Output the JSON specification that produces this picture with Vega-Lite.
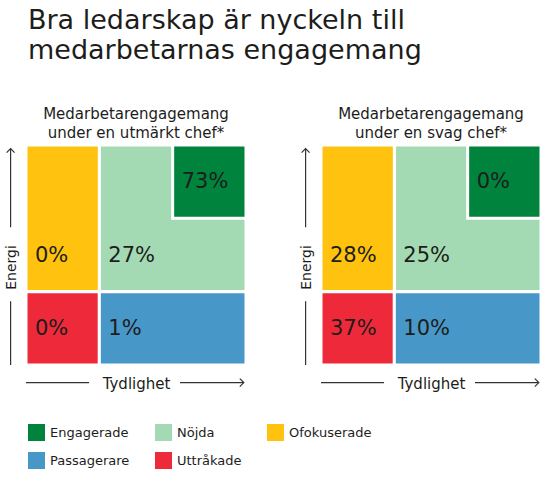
{
  "$schema": "https://vega.github.io/schema/vega-lite/v6.json",
  "padding": {"left": 4, "top": 6, "right": 0, "bottom": 0},
  "title": {
    "text": ["Bra ledarskap är nyckeln till", "medarbetarnas engagemang"],
    "anchor": "start",
    "frame": "group",
    "dx": 2,
    "fontSize": 27,
    "fontWeight": "normal",
    "lineHeight": 30,
    "color": "#1d1d1b",
    "offset": 42
  },
  "datasets": {
    "celler": [
      {"chef": "utmärkt", "grupp": "Nöjda", "andel": 0.27, "x0": 1, "x1": 3, "y0": 1, "y1": 3},
      {"chef": "utmärkt", "grupp": "Engagerade", "andel": 0.73, "x0": 2, "x1": 3, "y0": 2, "y1": 3},
      {"chef": "utmärkt", "grupp": "Ofokuserade", "andel": 0, "x0": 0, "x1": 1, "y0": 1, "y1": 3},
      {"chef": "utmärkt", "grupp": "Uttråkade", "andel": 0, "x0": 0, "x1": 1, "y0": 0, "y1": 1},
      {"chef": "utmärkt", "grupp": "Passagerare", "andel": 0.01, "x0": 1, "x1": 3, "y0": 0, "y1": 1},
      {"chef": "svag", "grupp": "Nöjda", "andel": 0.25, "x0": 1, "x1": 3, "y0": 1, "y1": 3},
      {"chef": "svag", "grupp": "Engagerade", "andel": 0, "x0": 2, "x1": 3, "y0": 2, "y1": 3},
      {"chef": "svag", "grupp": "Ofokuserade", "andel": 0.28, "x0": 0, "x1": 1, "y0": 1, "y1": 3},
      {"chef": "svag", "grupp": "Uttråkade", "andel": 0.37, "x0": 0, "x1": 1, "y0": 0, "y1": 1},
      {"chef": "svag", "grupp": "Passagerare", "andel": 0.10, "x0": 1, "x1": 3, "y0": 0, "y1": 1}
    ],
    "linjer": [
      {"x": -0.21, "x2": -0.21, "y": 1.88, "y2": 2.95},
      {"x": -0.21, "x2": -0.21, "y": 0, "y2": 0.87},
      {"x": 0, "x2": 0.86, "y": -0.24, "y2": -0.24},
      {"x": 2.1, "x2": 2.97, "y": -0.24, "y2": -0.24}
    ],
    "pilar": [
      {"riktning": "upp", "x": -0.21, "y": 2.95},
      {"riktning": "höger", "x": 2.97, "y": -0.24}
    ]
  },
  "hconcat": [
    {
      "title": {"text": ["Medarbetarengagemang", "under en utmärkt chef*"]},
      "width": 220,
      "height": 220,
      "layer": [
        {
          "data": {"name": "celler"},
          "transform": [{"filter": "datum.chef === 'utmärkt'"}],
          "mark": {"type": "rect", "stroke": "white", "strokeWidth": 3},
          "encoding": {
            "x": {"field": "x0", "type": "quantitative", "scale": {"domain": [0, 3]},
              "axis": {"title": "Tydlighet", "domain": false, "ticks": false, "labels": false, "grid": false, "minExtent": 0, "titlePadding": 11}},
            "x2": {"field": "x1"},
            "y": {"field": "y0", "type": "quantitative", "scale": {"domain": [0, 3]},
              "axis": {"title": "Energi", "domain": false, "ticks": false, "labels": false, "grid": false, "minExtent": 0, "titlePadding": 8, "titleY": 122}},
            "y2": {"field": "y1"},
            "color": {"field": "grupp", "type": "nominal",
              "scale": {"domain": ["Engagerade", "Nöjda", "Ofokuserade", "Passagerare", "Uttråkade"],
                        "range": ["#00843d", "#a3dab3", "#ffc20e", "#4797c9", "#ee2a3a"]},
              "legend": {"orient": "none", "legendX": 2, "legendY": 279, "columns": 3, "direction": "horizontal"}}
          }
        },
        {
          "data": {"name": "celler"},
          "transform": [{"filter": "datum.chef === 'utmärkt'"}],
          "mark": {"type": "text", "align": "left", "baseline": "middle", "dx": 9, "dy": -36, "fontSize": 21, "color": "#1d1d1b"},
          "encoding": {
            "x": {"field": "x0", "type": "quantitative"},
            "y": {"field": "y0", "type": "quantitative"},
            "text": {"field": "andel", "type": "quantitative", "format": ".0%"}
          }
        },
        {
          "data": {"name": "linjer"},
          "mark": {"type": "rule", "color": "#333333", "strokeWidth": 1.2},
          "encoding": {
            "x": {"field": "x", "type": "quantitative"},
            "x2": {"field": "x2"},
            "y": {"field": "y", "type": "quantitative"},
            "y2": {"field": "y2"}
          }
        },
        {
          "data": {"name": "pilar"},
          "mark": {"type": "point", "filled": false, "stroke": "#333333", "strokeWidth": 1.2, "size": 64, "opacity": 1},
          "encoding": {
            "x": {"field": "x", "type": "quantitative"},
            "y": {"field": "y", "type": "quantitative"},
            "shape": {"field": "riktning", "type": "nominal", "legend": null,
              "scale": {"domain": ["upp", "höger"], "range": ["M-1,1L0,0L1,1", "M-1,-1L0,0L-1,1"]}}
          }
        }
      ]
    },
    {
      "title": {"text": ["Medarbetarengagemang", "under en svag chef*"]},
      "width": 220,
      "height": 220,
      "layer": [
        {
          "data": {"name": "celler"},
          "transform": [{"filter": "datum.chef === 'svag'"}],
          "mark": {"type": "rect", "stroke": "white", "strokeWidth": 3},
          "encoding": {
            "x": {"field": "x0", "type": "quantitative", "scale": {"domain": [0, 3]},
              "axis": {"title": "Tydlighet", "domain": false, "ticks": false, "labels": false, "grid": false, "minExtent": 0, "titlePadding": 11}},
            "x2": {"field": "x1"},
            "y": {"field": "y0", "type": "quantitative", "scale": {"domain": [0, 3]},
              "axis": {"title": "Energi", "domain": false, "ticks": false, "labels": false, "grid": false, "minExtent": 0, "titlePadding": 8, "titleY": 122}},
            "y2": {"field": "y1"},
            "color": {"field": "grupp", "type": "nominal",
              "scale": {"domain": ["Engagerade", "Nöjda", "Ofokuserade", "Passagerare", "Uttråkade"],
                        "range": ["#00843d", "#a3dab3", "#ffc20e", "#4797c9", "#ee2a3a"]},
              "legend": {"orient": "none", "legendX": 2, "legendY": 279, "columns": 3, "direction": "horizontal"}}
          }
        },
        {
          "data": {"name": "celler"},
          "transform": [{"filter": "datum.chef === 'svag'"}],
          "mark": {"type": "text", "align": "left", "baseline": "middle", "dx": 9, "dy": -36, "fontSize": 21, "color": "#1d1d1b"},
          "encoding": {
            "x": {"field": "x0", "type": "quantitative"},
            "y": {"field": "y0", "type": "quantitative"},
            "text": {"field": "andel", "type": "quantitative", "format": ".0%"}
          }
        },
        {
          "data": {"name": "linjer"},
          "mark": {"type": "rule", "color": "#333333", "strokeWidth": 1.2},
          "encoding": {
            "x": {"field": "x", "type": "quantitative"},
            "x2": {"field": "x2"},
            "y": {"field": "y", "type": "quantitative"},
            "y2": {"field": "y2"}
          }
        },
        {
          "data": {"name": "pilar"},
          "mark": {"type": "point", "filled": false, "stroke": "#333333", "strokeWidth": 1.2, "size": 64, "opacity": 1},
          "encoding": {
            "x": {"field": "x", "type": "quantitative"},
            "y": {"field": "y", "type": "quantitative"},
            "shape": {"field": "riktning", "type": "nominal", "legend": null,
              "scale": {"domain": ["upp", "höger"], "range": ["M-1,1L0,0L1,1", "M-1,-1L0,0L-1,1"]}}
          }
        }
      ]
    }
  ],
  "spacing": 51,
  "config": {
    "font": "DejaVu Sans",
    "view": {"stroke": null},
    "title": {"fontSize": 15, "fontWeight": "normal", "color": "#1d1d1b", "lineHeight": 19, "offset": 3},
    "axis": {"titleFontSize": 15, "titleFontWeight": "normal", "titleColor": "#1d1d1b"},
    "axisY": {"titleFontSize": 14},
    "legend": {
      "title": null,
      "symbolType": "square",
      "symbolSize": 289,
      "symbolStrokeWidth": 0,
      "symbolOpacity": 1,
      "labelFontSize": 13,
      "labelColor": "#1d1d1b",
      "labelOffset": 5,
      "rowPadding": 11,
      "columnPadding": 25
    }
  }
}
